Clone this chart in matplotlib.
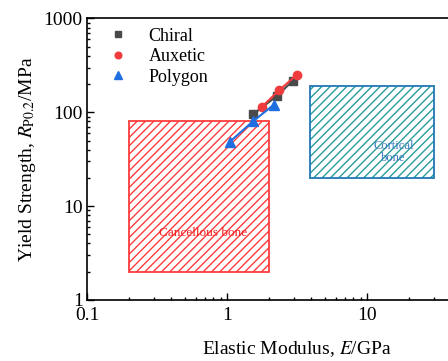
import matplotlib
matplotlib.use("Agg")
import matplotlib.pyplot as plt
from matplotlib.patches import Rectangle
from matplotlib.ticker import LogLocator, NullFormatter, FixedLocator, FixedFormatter

plt.rcParams['font.family'] = ['Liberation Serif', 'DejaVu Serif']
plt.rcParams['mathtext.fontset'] = 'stix'
plt.rcParams['hatch.linewidth'] = 1.0

# Data (E in GPa, yield strength in MPa)
chiral_E = [1.53, 2.28, 2.96]
chiral_S = [95, 150, 218]
auxetic_E = [1.78, 2.35, 3.16]
auxetic_S = [115, 171, 252]
polygon_E = [1.05, 1.53, 2.17]
polygon_S = [48.7, 80, 121]

cancellous_E = [0.2, 2.0]
cancellous_S = [2.0, 80.0]
cortical_E = [3.9, 30.0]
cortical_S = [20.0, 193.0]

xticks = [0.1, 1, 10]
xticklabels = ["0.1", "1", "10"]
yticks = [1, 10, 100, 1000]
yticklabels = ["1", "10", "100", "1000"]

fig = plt.figure(figsize=(4.48, 3.61), dpi=100)
ax = fig.add_axes([0.1942, 0.1690, 0.9375, 0.7798])
ax.set_xscale('log')
ax.set_yscale('log')
ax.set_xlim(0.1, 100)
ax.set_ylim(1, 1000)

red = '#ff3b3b'
# Cancellous bone box
ax.add_patch(Rectangle((cancellous_E[0], cancellous_S[0]), cancellous_E[1] - cancellous_E[0],
                       cancellous_S[1] - cancellous_S[0], facecolor='none', edgecolor=red,
                       hatch='////', linewidth=0, zorder=1))
ax.add_patch(Rectangle((cancellous_E[0], cancellous_S[0]), cancellous_E[1] - cancellous_E[0],
                       cancellous_S[1] - cancellous_S[0], facecolor='none', edgecolor=red,
                       linewidth=1.3, zorder=1))
# Cortical bone box
ax.add_patch(Rectangle((cortical_E[0], cortical_S[0]), cortical_E[1] - cortical_E[0],
                       cortical_S[1] - cortical_S[0], facecolor='none', edgecolor='#2a9d9a',
                       hatch='////', linewidth=0, zorder=1))
ax.add_patch(Rectangle((cortical_E[0], cortical_S[0]), cortical_E[1] - cortical_E[0],
                       cortical_S[1] - cortical_S[0], facecolor='none', edgecolor='#1f78b4',
                       linewidth=1.3, zorder=1))

ax.text(0.674, 5.2, "Cancellous bone", color='#f02020', fontsize=9.5, ha='center', va='center', zorder=2)
ax.text(15.4, 38, "Cortical\nbone", color='#3a7ac0', fontsize=9, ha='center', va='center',
        linespacing=1.0, zorder=2)

ax.plot(chiral_E, chiral_S, '-s', color='#4a4a4a', markersize=5.5, linewidth=1.5, label='Chiral', zorder=3)
ax.plot(auxetic_E, auxetic_S, '-o', color='#f03c3c', markersize=6, linewidth=1.5, label='Auxetic', zorder=4)
ax.plot(polygon_E, polygon_S, '-^', color='#1f6fe0', markersize=6.5, linewidth=1.5, label='Polygon', zorder=5)

ax.xaxis.set_major_locator(FixedLocator(xticks))
ax.xaxis.set_major_formatter(FixedFormatter(xticklabels))
ax.yaxis.set_major_locator(FixedLocator(yticks))
ax.yaxis.set_major_formatter(FixedFormatter(yticklabels))
ax.xaxis.set_minor_locator(LogLocator(base=10, subs=range(2, 10)))
ax.yaxis.set_minor_locator(LogLocator(base=10, subs=range(2, 10)))
ax.xaxis.set_minor_formatter(NullFormatter())
ax.yaxis.set_minor_formatter(NullFormatter())
ax.tick_params(which='both', direction='in', top=False, right=False, labelsize=14, width=1)
ax.tick_params(which='major', length=5)
ax.tick_params(which='minor', length=2.5)
ax.tick_params(axis='x', pad=5)
ax.tick_params(axis='y', pad=3)
for s in ax.spines.values():
    s.set_linewidth(1.2)

ax.set_xlabel("Elastic Modulus, $E$/GPa", fontsize=14, labelpad=11)
ax.set_ylabel("Yield Strength, $R_{\\mathrm{P0.2}}$/MPa", fontsize=14, labelpad=4)

leg = ax.legend(loc='upper left', bbox_to_anchor=(0.03, 1.0), frameon=False, fontsize=13,
                handlelength=1.0, handletextpad=1.2, borderaxespad=0.1, labelspacing=0.2,
                markerscale=0.8)
for h in leg.legend_handles:
    h.set_linestyle('none')

fig.savefig('out.png', dpi=100)
